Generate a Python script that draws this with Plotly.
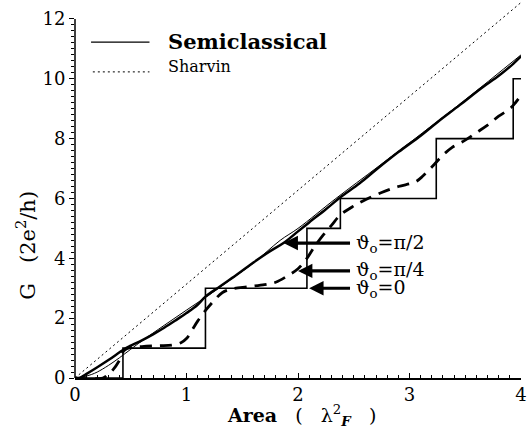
import numpy as np
import plotly.graph_objects as go

# Conductance of a circular constriction vs. its area (in units of lambda_F^2)

# Sharvin limit (straight line)
area_sharvin = [0.0, 4.0]
g_sharvin = [0.0, 12.55]

# Semiclassical curve
area_semi = [0, 0.05, 0.1, 0.15, 0.2, 0.3, 0.4, 0.5, 0.6, 0.8, 1.0, 1.2, 1.4, 1.6,
             1.84, 2.0, 2.34, 2.71, 3.0, 3.5, 4.0]
g_semi = [0, 0.02, 0.06, 0.12, 0.2, 0.42, 0.68, 0.96, 1.24, 1.76, 2.27, 2.77, 3.3, 3.84,
          4.6, 5.0, 6.0, 7.04, 7.86, 9.3, 10.8]

# theta_0 = pi/2 (thick solid)
area_pi2 = [0, 0.04, 0.1, 0.2, 0.3, 0.44, 0.5, 0.6, 0.7, 0.8, 0.9, 1.0, 1.1, 1.17, 1.3,
            1.45, 1.6, 1.75, 1.87, 2.0, 2.1, 2.25, 2.38, 2.55, 2.7, 2.9, 3.1, 3.25, 3.45,
            3.65, 3.8, 3.93, 4.0]
g_pi2 = [0, 0, 0.13, 0.36, 0.6, 0.96, 1.08, 1.26, 1.46, 1.68, 1.92, 2.17, 2.45, 2.72, 3.06,
         3.45, 3.86, 4.24, 4.51, 4.9, 5.2, 5.64, 6.04, 6.5, 6.96, 7.55, 8.1, 8.55, 9.12,
         9.7, 10.1, 10.5, 10.75]

# theta_0 = pi/4 (thick dashed)
area_pi4 = [0, 0.25, 0.29, 0.34, 0.40, 0.44, 0.5, 0.6, 0.75, 0.87, 0.95, 1.0, 1.05, 1.1,
            1.18, 1.25, 1.32, 1.4, 1.55, 1.7, 1.8, 1.9, 2.0, 2.08, 2.15, 2.22, 2.3, 2.38,
            2.5, 2.6, 2.75, 2.9, 3.05, 3.12, 3.2, 3.3, 3.38, 3.5, 3.6, 3.7, 3.8, 3.9, 3.95, 4.0]
g_pi4 = [0, 0, 0.1, 0.27, 0.6, 0.92, 1.02, 1.05, 1.08, 1.1, 1.18, 1.32, 1.6, 1.9,
         2.3, 2.6, 2.85, 2.97, 3.05, 3.12, 3.2, 3.4, 3.65, 4.0, 4.4, 4.75, 5.1, 5.45,
         5.75, 5.95, 6.2, 6.4, 6.55, 6.75, 7.05, 7.45, 7.7, 7.95, 8.2, 8.45, 8.75, 9.0, 9.2, 9.45]

# theta_0 = 0 (quantised steps)
area_step = [0, 0.43, 1.17, 2.08, 2.38, 3.24, 3.93, 4.0]
g_step = [0, 1, 3, 5, 6, 8, 10, 10]

x_ticks = [0, 1, 2, 3, 4]
y_ticks = [0, 2, 4, 6, 8, 10, 12]

SERIF = "DejaVu Serif"
X_MAX, Y_MAX = 4.0, 12.6
NB = "\u00a0"

fig = go.Figure()
fig.add_trace(go.Scatter(x=area_sharvin, y=g_sharvin, mode="lines",
                         line=dict(color="black", width=1, dash="2px,3px")))
fig.add_trace(go.Scatter(x=area_semi, y=g_semi, mode="lines", line_shape="spline",
                         line=dict(color="black", width=1)))
fig.add_trace(go.Scatter(x=area_pi2, y=g_pi2, mode="lines", line_shape="spline",
                         line=dict(color="black", width=2.5)))
fig.add_trace(go.Scatter(x=area_pi4, y=g_pi4, mode="lines", line_shape="spline",
                         line=dict(color="black", width=2.8, dash="12px,8px")))
fig.add_trace(go.Scatter(x=area_step, y=g_step, mode="lines", line_shape="hv",
                         line=dict(color="black", width=1.6)))

# left axis line only spans the labelled range 0..12
fig.add_shape(type="line", xref="paper", yref="paper", x0=0, x1=0, y0=0, y1=12 / Y_MAX,
              line=dict(color="black", width=1.5))

# key
fig.add_shape(type="line", xref="paper", yref="paper", x0=0.036, x1=0.167, y0=0.891, y1=0.891,
              line=dict(color="black", width=1.2))
fig.add_shape(type="line", xref="paper", yref="paper", x0=0.04, x1=0.167, y0=0.812, y1=0.812,
              line=dict(color="black", width=1, dash="2px,3px"))
fig.add_annotation(xref="paper", yref="paper", x=0.204, y=0.893, xanchor="left", yanchor="middle",
                   text="<b>Semiclassical</b>", showarrow=False,
                   font=dict(family=SERIF, size=21, color="black"))
fig.add_annotation(xref="paper", yref="paper", x=0.204, y=0.826, xanchor="left", yanchor="middle",
                   text="Sharvin", showarrow=False,
                   font=dict(family=SERIF, size=16, color="black"))

# arrows pointing at the three curves
labels = [("ϑ<sub>o</sub>=π/2", 1.87, 4.51),
          ("ϑ<sub>o</sub>=π/4", 2.0, 3.58),
          ("ϑ<sub>o</sub>=0", 2.1, 3.0)]
for txt, ax_tip, ay_tip in labels:
    fig.add_annotation(x=ax_tip, y=ay_tip, ax=2.48, ay=ay_tip, xref="x", yref="y",
                       axref="x", ayref="y", text="", showarrow=True,
                       arrowhead=2, arrowsize=0.9, arrowwidth=3.2, arrowcolor="black", standoff=0)
    fig.add_annotation(x=2.5, y=ay_tip, xref="x", yref="y", xanchor="left", yanchor="middle",
                       text=txt, showarrow=False,
                       font=dict(family=SERIF, size=19, color="black"))

# axis titles
fig.add_annotation(xref="paper", yref="paper", x=0.507, y=-0.058, xanchor="center", yanchor="top",
                   text=f"<b>Area</b>{NB*3}({NB*3}λ<sup>2</sup><sub><b><i>F</i></b></sub>{NB*3})",
                   showarrow=False, font=dict(family=SERIF, size=19, color="black"))
fig.add_annotation(xref="paper", yref="paper", x=-0.11, y=0.353, xanchor="center", yanchor="middle",
                   text=f"G{NB*3}(2e<sup>2</sup>/h)", textangle=-90,
                   showarrow=False, font=dict(family=SERIF, size=21, color="black"))

fig.update_layout(
    width=528, height=436,
    margin=dict(l=75, r=3, t=1, b=58),
    plot_bgcolor="white", paper_bgcolor="white",
    showlegend=False,
    xaxis=dict(range=[0, X_MAX], showline=True, linecolor="black", linewidth=1.5,
               showgrid=False, zeroline=False, ticklabeloverflow="allow",
               tickmode="array", tickvals=x_ticks, ticktext=[str(v) for v in x_ticks],
               ticks="inside", ticklen=5, tickwidth=1.2, tickcolor="black",
               tickfont=dict(family=SERIF, size=18, color="black"),
               minor=dict(tickvals=list(np.round(np.arange(0, 4.001, 0.1), 2)),
                          ticks="inside", ticklen=3, tickwidth=1, tickcolor="black")),
    yaxis=dict(range=[0, Y_MAX], showline=False, showgrid=False, zeroline=False,
               tickmode="array", tickvals=y_ticks, ticktext=[str(v) for v in y_ticks],
               ticks="outside", ticklen=5, tickwidth=1.2, tickcolor="black",
               tickfont=dict(family=SERIF, size=18, color="black"),
               minor=dict(tickvals=list(np.round(np.arange(0, 12.001, 0.2), 2)),
                          ticks="outside", ticklen=3, tickwidth=1, tickcolor="black")),
)

fig.write_html("out.html")
